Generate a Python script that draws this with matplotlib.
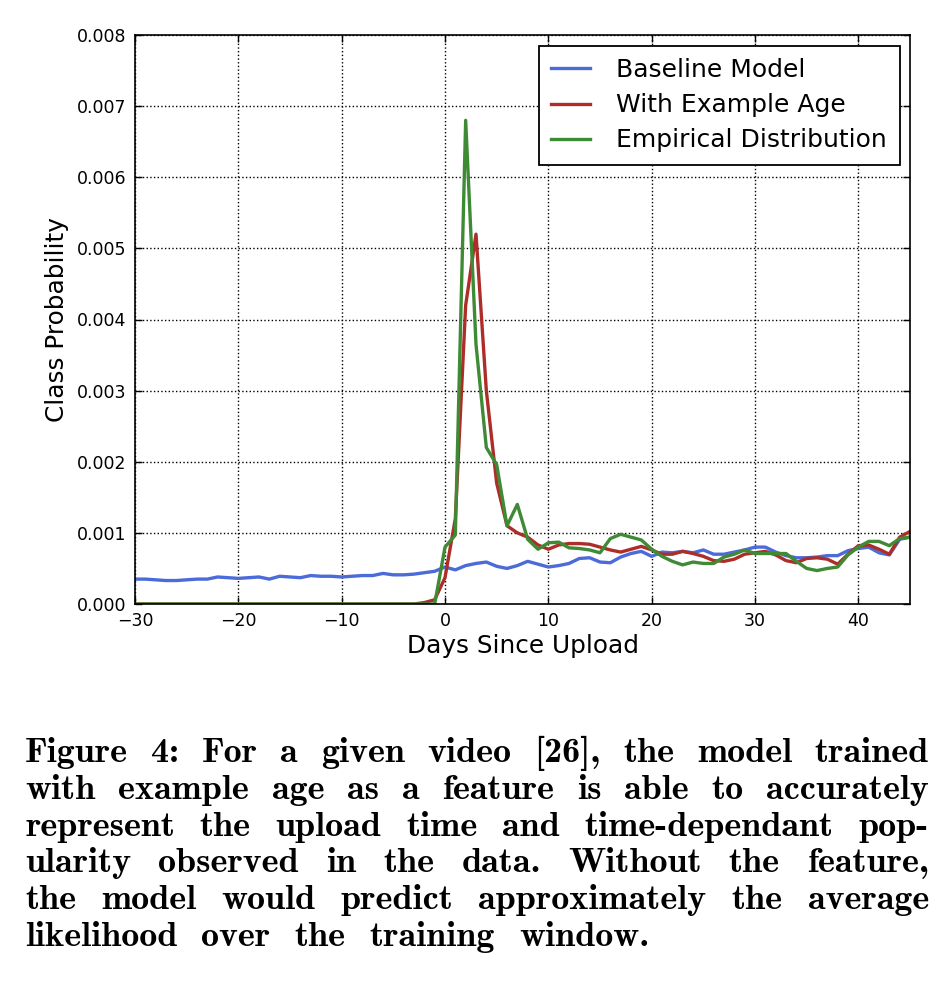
import numpy as np
import matplotlib
matplotlib.use("Agg")
import matplotlib.pyplot as plt

days = list(range(-30, 46))

baseline_model = [
    0.00035, 0.00035, 0.00034, 0.00033, 0.00033, 0.00034, 0.00035, 0.00035, 0.00038, 0.00037,
    0.00036, 0.00037, 0.00038, 0.00035, 0.00039, 0.00038, 0.00037, 0.00040, 0.00039, 0.00039,
    0.00038, 0.00039, 0.00040, 0.00040, 0.00043, 0.00041, 0.00041, 0.00042, 0.00044, 0.00046,
    0.00052, 0.00048, 0.00054, 0.00057, 0.00059, 0.00053, 0.00050, 0.00054, 0.00060, 0.00056,
    0.00052, 0.00054, 0.00057, 0.00064, 0.00065, 0.00059, 0.00058, 0.00066, 0.00071, 0.00074,
    0.00067, 0.00073, 0.00072, 0.00074, 0.00072, 0.00076, 0.00070, 0.00070, 0.00073, 0.00076,
    0.00080, 0.00080, 0.00073, 0.00068, 0.00065, 0.00065, 0.00066, 0.00068, 0.00068, 0.00075,
    0.00078, 0.00080, 0.00072, 0.00069, 0.00091, 0.00094,
]

with_example_age = [0.0] * 28 + [
    0.00002, 0.00006,
    0.00037, 0.00120, 0.00420, 0.00520, 0.00300, 0.00170, 0.00110, 0.00100, 0.00094, 0.00083,
    0.00077, 0.00083, 0.00085, 0.00085, 0.00084, 0.00080, 0.00076, 0.00073, 0.00077, 0.00081,
    0.00076, 0.00070, 0.00070, 0.00074, 0.00071, 0.00067, 0.00061, 0.00060, 0.00063, 0.00070,
    0.00072, 0.00074, 0.00069, 0.00061, 0.00058, 0.00064, 0.00065, 0.00063, 0.00056, 0.00070,
    0.00082, 0.00083, 0.00077, 0.00070, 0.00094, 0.00102,
]

empirical = [0.0] * 30 + [
    0.00080, 0.00097, 0.00680, 0.00365, 0.00220, 0.00196, 0.00110, 0.00140, 0.00091, 0.00077,
    0.00086, 0.00087, 0.00079, 0.00078, 0.00076, 0.00072, 0.00092, 0.00098, 0.00094, 0.00090,
    0.00077, 0.00067, 0.00060, 0.00055, 0.00059, 0.00057, 0.00057, 0.00066, 0.00070, 0.00076,
    0.00071, 0.00071, 0.00071, 0.00071, 0.00060, 0.00050, 0.00047, 0.00050, 0.00052, 0.00069,
    0.00080, 0.00088, 0.00088, 0.00082, 0.00092, 0.00094,
]

series_labels = ["Baseline Model", "With Example Age", "Empirical Distribution"]
series_colors = ["#4b6bd8", "#ad2e29", "#3f8a35"]

caption_lines = [
    "Figure 4: For a given video [26], the model trained",
    "with example age as a feature is able to accurately",
    "represent the upload time and time-dependant pop-",
    "ularity observed in the data.  Without the feature,",
    "the model would predict approximately the average",
    "likelihood over the training window.",
]

W, H = 946, 984
fig = plt.figure(figsize=(W / 100, H / 100), dpi=100)
fig.patch.set_facecolor("white")
ax = fig.add_axes([135 / W, 1 - 604 / H, (910 - 135) / W, (604 - 35) / H])

for values, label, color in zip([baseline_model, with_example_age, empirical],
                                series_labels, series_colors):
    ax.plot(days, values, color=color, linewidth=2.4, label=label)

ax.set_xlim(-30, 45)
ax.set_ylim(0, 0.008)
ax.set_xticks(np.arange(-30, 41, 10))
ax.set_yticks(np.arange(0, 0.0081, 0.001))
ax.yaxis.set_major_formatter(matplotlib.ticker.FormatStrFormatter("%.3f"))
ax.tick_params(direction="in", top=True, right=True, length=5, width=1, labelsize=12.5, pad=6)
ax.grid(True, color="black", linestyle=":", linewidth=1)
for spine in ax.spines.values():
    spine.set_linewidth(1.2)
ax.set_xlabel("Days Since Upload", fontsize=17.8, labelpad=3)
ax.set_ylabel("Class Probability", fontsize=17.8, labelpad=6)

leg = ax.legend(loc="upper right", fontsize=18, frameon=True, fancybox=False,
                handlelength=1.55, handletextpad=1.05, borderpad=0.5, labelspacing=0.45,
                borderaxespad=0.42)
leg.get_frame().set_edgecolor("black")
leg.get_frame().set_linewidth(1.3)
leg.get_frame().set_alpha(1)


def draw_caption(fig, lines, left, right, first_baseline, spacing):
    renderer = fig.canvas.get_renderer()
    for i, line in enumerate(lines):
        y = 1 - (first_baseline + i * spacing) / H
        words = line.split()
        texts = [fig.text(0, y, w, fontsize=26, family=["cmb10", "DejaVu Serif"],
                          va="baseline", ha="left") for w in words]
        widths = [t.get_window_extent(renderer).width for t in texts]
        last = i == len(lines) - 1
        if last:
            gap = 24.0
        else:
            gap = (right - left - sum(widths)) / (len(words) - 1)
        x = left
        for t, wd, word in zip(texts, widths, words):
            t.set_x(x / W)
            x += wd + gap


draw_caption(fig, caption_lines, 25, 929, 762, 36.8)

fig.savefig("out.png", dpi=100, facecolor="white")
